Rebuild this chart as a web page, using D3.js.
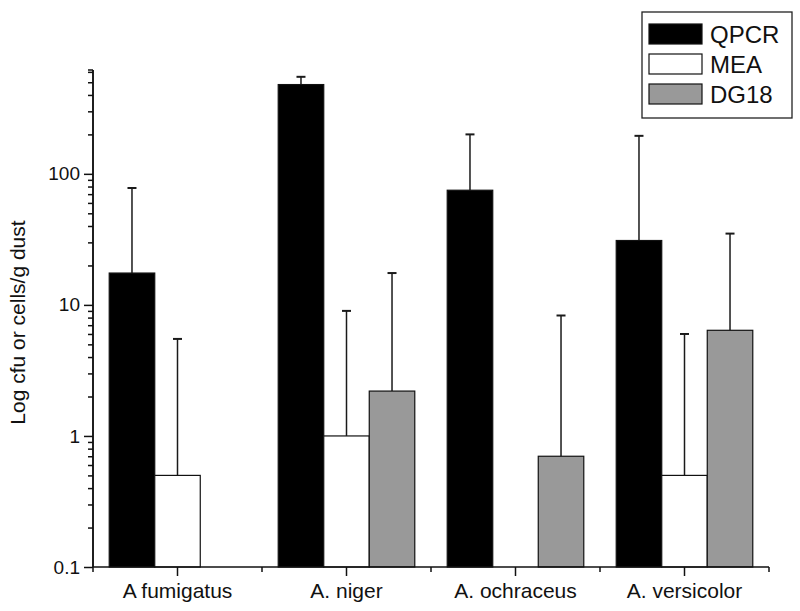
<!DOCTYPE html>
<html>
<head>
<meta charset="utf-8">
<script src="https://cdn.jsdelivr.net/npm/d3@7"></script>
<style>
  html, body { margin: 0; padding: 0; background: #fff; }
  svg { display: block; font-family: "Liberation Sans", Arial, Helvetica, sans-serif; }
</style>
</head>
<body>
<svg id="chart" width="800" height="611"></svg>
<script>
// ---- data ----
const categories = ["A fumigatus", "A. niger", "A. ochraceus", "A. versicolor"];
const seriesNames = ["QPCR", "MEA", "DG18"];
const seriesColors = ["#000000", "#ffffff", "#999999"];
const qpcrValues = [17.5, 480, 75, 31];
const qpcrUpper  = [78, 550, 200, 195];
const meaValues  = [0.5, 1.0, null, 0.5];
const meaUpper   = [5.5, 9, null, 6];
const dg18Values = [null, 2.2, 0.7, 6.4];
const dg18Upper  = [null, 17.5, 8.3, 35];
const yTickValues = [0.1, 1, 10, 100];
const yTickLabels = ["0.1", "1", "10", "100"];
const yLabel = "Log cfu or cells/g dust";

const seriesValues = [qpcrValues, meaValues, dg18Values];
const seriesUpper = [qpcrUpper, meaUpper, dg18Upper];

// ---- layout ----
const svg = d3.select("#chart");
const mLeft = 93, mRight = 769, mTop = 70, mBottom = 567;

const x = d3.scaleBand().domain(categories).range([mLeft, mRight])
  .paddingInner(0.192).paddingOuter(0.096);
const xs = d3.scaleBand().domain(seriesNames).range([0, x.bandwidth()]);
const y = d3.scaleLog().domain([0.1, 620]).range([mBottom, mTop]);

const g = svg.append("g");

// bars
seriesNames.forEach((s, si) => {
  const data = categories.map((c, ci) => ({c, v: seriesValues[si][ci], u: seriesUpper[si][ci]}))
    .filter(d => d.v != null);
  const eg = g.append("g");
  data.forEach(d => {
    const cx = x(d.c) + xs(s) + xs.bandwidth() / 2;
    eg.append("line").attr("x1", cx).attr("x2", cx)
      .attr("y1", y(d.v)).attr("y2", y(d.u))
      .attr("stroke", "#1a1a1a").attr("stroke-width", 1.5);
    eg.append("line").attr("x1", cx - 4.5).attr("x2", cx + 4.5)
      .attr("y1", y(d.u)).attr("y2", y(d.u))
      .attr("stroke", "#1a1a1a").attr("stroke-width", 2);
  });
  g.selectAll(null).data(data).enter().append("rect")
    .attr("x", d => x(d.c) + xs(s))
    .attr("y", d => y(d.v))
    .attr("width", xs.bandwidth())
    .attr("height", d => y(0.1) - y(d.v))
    .attr("fill", seriesColors[si])
    .attr("stroke", "#111")
    .attr("stroke-width", 1.2);
});

// y axis
const yMinor = [];
for (let e = -1; e <= 2; e++) {
  for (let m = 2; m <= 9; m++) {
    const v = m * Math.pow(10, e);
    if (v <= 620) yMinor.push(v);
  }
}
const yAxisMajor = d3.axisLeft(y).tickValues(yTickValues)
  .tickFormat((d, i) => yTickLabels[i]).tickSize(9).tickPadding(4);
const yAxisMinor = d3.axisLeft(y).tickValues(yMinor).tickFormat("").tickSize(5);
const ya = svg.append("g").attr("transform", `translate(${mLeft},0)`).call(yAxisMajor);
const ym = svg.append("g").attr("transform", `translate(${mLeft},0)`).call(yAxisMinor);
[ya, ym].forEach(a => {
  a.select(".domain").attr("stroke", "#111").attr("stroke-width", 1.5).attr("d", `M0,${mBottom}V${mTop}`);
  a.selectAll(".tick line").attr("stroke", "#111").attr("stroke-width", 1.5);
});
ya.selectAll(".tick text").attr("font-size", 19).attr("fill", "#111")
  .attr("font-family", "'Liberation Sans', Arial, sans-serif");
svg.append("line").attr("x1", mLeft - 5).attr("x2", mLeft).attr("y1", mTop).attr("y2", mTop)
  .attr("stroke", "#111").attr("stroke-width", 1.5);

// x axis
const xAxis = d3.axisBottom(x).tickSize(9).tickPadding(7);
const xa = svg.append("g").attr("transform", `translate(0,${mBottom})`).call(xAxis);
xa.select(".domain").attr("stroke", "#111").attr("stroke-width", 1.5).attr("d", `M${mLeft},0H${mRight}`);
xa.selectAll(".tick line").attr("stroke", "#111").attr("stroke-width", 1.5);
xa.selectAll(".tick text").attr("font-size", 21).attr("fill", "#111")
  .attr("font-family", "'Liberation Sans', Arial, sans-serif");
const bounds = categories.map(c => x(c) - x.step() * x.paddingInner() / 2);
bounds.push(mRight);
svg.append("g").selectAll("line").data(bounds).enter().append("line")
  .attr("x1", d => d).attr("x2", d => d).attr("y1", mBottom).attr("y2", mBottom + 5)
  .attr("stroke", "#111").attr("stroke-width", 1.5);

// y label
svg.append("text")
  .attr("transform", `translate(25,${(mTop + mBottom) / 2 + 4}) rotate(-90)`)
  .attr("text-anchor", "middle")
  .attr("font-size", 21).attr("fill", "#111")
  .text(yLabel);

// legend
const lg = svg.append("g");
lg.append("rect").attr("x", 642).attr("y", 12).attr("width", 150).attr("height", 106)
  .attr("fill", "#fff").attr("stroke", "#222").attr("stroke-width", 1.3);
seriesNames.forEach((s, i) => {
  const yy = 24 + i * 30;
  lg.append("rect").attr("x", 649).attr("y", yy).attr("width", 53).attr("height", 20)
    .attr("fill", seriesColors[i]).attr("stroke", "#111").attr("stroke-width", 1.2);
  lg.append("text").attr("x", 710).attr("y", yy + 19).attr("font-size", 24)
    .attr("fill", "#111").text(s);
});
</script>
</body>
</html>
